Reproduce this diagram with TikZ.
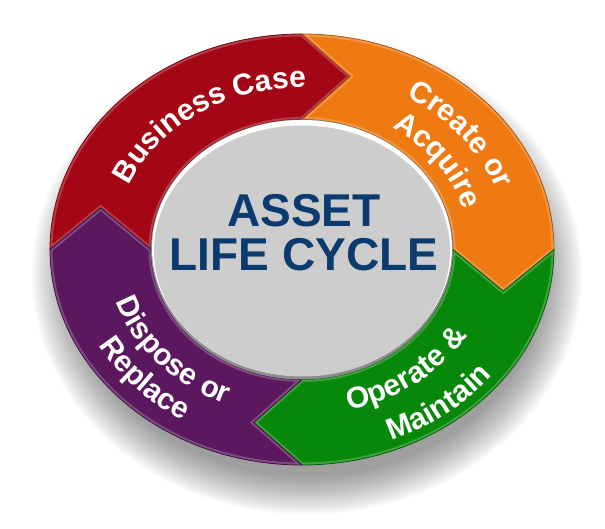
\documentclass[tikz,border=0pt]{standalone}
\usepackage{fontspec}
\setmainfont{Liberation Sans}
\usetikzlibrary{decorations.text}
\definecolor{bcred}{RGB}{163,6,20}
\definecolor{caorange}{RGB}{240,122,18}
\definecolor{omgreen}{RGB}{8,136,10}
\definecolor{drpurple}{RGB}{92,24,94}
\definecolor{hubgray}{RGB}{205,205,205}
\definecolor{hubrim}{RGB}{140,140,140}
\definecolor{titleblue}{RGB}{10,58,110}
\newcommand{\ringfont}{\color{white}\fontsize{30}{30}\selectfont\bfseries}
\tikzset{
  ringtext/.style={decorate, decoration={text along path, text align=center, text={|\ringfont|#1}}},
  title/.style={font=\fontsize{46}{46}\selectfont\bfseries, text=titleblue, anchor=base, inner sep=0pt}
}
\begin{document}
\begin{tikzpicture}[x=1pt,y=1pt]
  \def\segpath#1#2{(#1:252pt and 215.5pt) arc[start angle=#1, end angle=#2, x radius=252pt, y radius=215.5pt] -- ({#2-13.5}:207pt and 178pt) -- (#2:151pt and 130pt) arc[start angle=#2, end angle=#1, x radius=151pt, y radius=130pt] -- ({#1-13.5}:207pt and 178pt) -- cycle}
  \useasboundingbox (-302,-279.5) rectangle (303,249.5);
  % soft shadow
  \foreach \k in {0,...,19}
    \fill[black, opacity=.025] (5,-25) ellipse[x radius={(275-2*\k)*1pt}, y radius={(240-2*\k)*1pt}];
  \foreach \a/\b/\c in {180/90/bcred, 90/0/caorange, 0/-90/omgreen, -90/-180/drpurple}{
    \fill[\c] \segpath{\a}{\b};
    \begin{scope}
      \clip \segpath{\a}{\b};
      \draw[white, opacity=.22, line width=5pt] \segpath{\a}{\b};
    \end{scope}
    \draw[\c!70!black, line width=.8pt] \segpath{\a}{\b};
  }
  % hub
  \fill[hubrim] (0,0) ellipse[x radius=151pt, y radius=130pt];
  \fill[white] (0,1.5) ellipse[x radius=150pt, y radius=128pt];
  \fill[hubgray] (0,-1.5) ellipse[x radius=148pt, y radius=125.5pt];
  \node[title] (asset) at (2,22.5) {ASSET};
  \node[title] (lifecycle) at (2,-21.5) {LIFE CYCLE};
  % ring labels
  \path[ringtext={Business Case}] (184.5:188.7pt and 162pt) arc[start angle=184.5, end angle=64.5, x radius=188.7pt, y radius=162pt];
  \path[ringtext={Create or}] (97:206pt and 177pt) arc[start angle=97, end angle=-23, x radius=206pt, y radius=177pt];
  \path[ringtext={Acquire}] (94:168pt and 144pt) arc[start angle=94, end angle=-26, x radius=168pt, y radius=144pt];
  \path[ringtext={Operate {\&}}] (-111:193.4pt and 166pt) arc[start angle=-111, end angle=9, x radius=193.4pt, y radius=166pt];
  \path[ringtext={Maintain}] (-110:240pt and 206pt) arc[start angle=-110, end angle=10, x radius=240pt, y radius=206pt];
  \path[ringtext={Dispose or}] (160:195.7pt and 168pt) arc[start angle=160, end angle=280, x radius=195.7pt, y radius=168pt];
  \path[ringtext={Replace}] (161:231.8pt and 199pt) arc[start angle=161, end angle=281, x radius=231.8pt, y radius=199pt];
\end{tikzpicture}
\end{document}
